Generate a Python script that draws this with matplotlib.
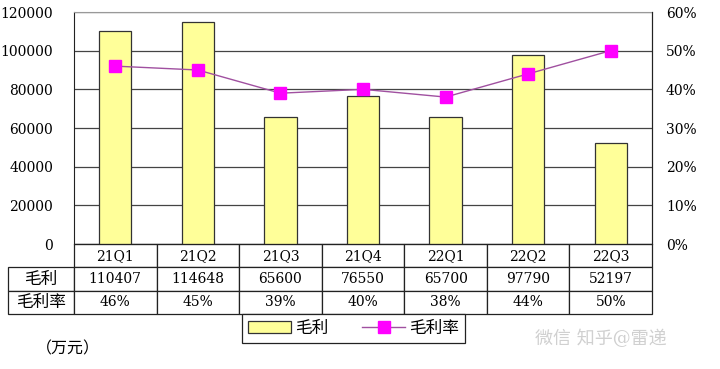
import matplotlib
matplotlib.use("Agg")
import matplotlib.pyplot as plt
from matplotlib.ticker import FuncFormatter

plt.rcParams['font.family'] = ['DejaVu Serif', 'Noto Sans CJK SC']

quarters = ['21Q1', '21Q2', '21Q3', '21Q4', '22Q1', '22Q2', '22Q3']
gross_profit = [110407, 114648, 65600, 76550, 65700, 97790, 52197]
gross_margin = [46, 45, 39, 40, 38, 44, 50]
label_profit = '毛利'
label_margin = '毛利率'

fig = plt.figure(figsize=(7.2, 3.69), dpi=100)
ax = fig.add_axes([74 / 720, 1 - 244 / 369, 578 / 720, 232 / 369])

x = list(range(len(quarters)))
bars = ax.bar(x, gross_profit, width=0.39, color='#FFFF99', edgecolor='#333333',
              linewidth=0.9, zorder=2, label=label_profit)
ax.set_xlim(-0.5, 6.5)
ax.set_ylim(0, 120000)
ax.set_yticks(range(0, 120001, 20000))
ax.set_xticks([])
ax.yaxis.grid(True, color='#444444', linewidth=0.9)
ax.set_axisbelow(True)
ax.tick_params(axis='y', length=0, pad=15, labelsize=10)
for s in ['left', 'right', 'bottom']:
    ax.spines[s].set_color('#222222')
ax.spines['top'].set_color('#999999')

ax2 = ax.twinx()
line, = ax2.plot(x, gross_margin, color='#A050A0', linewidth=1.0, marker='s',
                 markersize=8, markerfacecolor='#FF00FF', markeredgecolor='#FF00FF',
                 label=label_margin, zorder=3)
ax2.set_ylim(0, 60)
ax2.set_yticks(range(0, 61, 10))
ax2.yaxis.set_major_formatter(FuncFormatter(lambda v, p: '%d%%' % v))
ax2.tick_params(axis='y', length=0, pad=10, labelsize=10)
for s in ['left', 'top', 'bottom']:
    ax2.spines[s].set_visible(False)
ax2.spines['right'].set_color('#222222')

# data table under the chart
col_w = 578 / 7
lab_w = 66
widths = [lab_w] + [col_w] * 7
tot = sum(widths)
cells = [[label_profit] + [str(v) for v in gross_profit],
         [label_margin] + ['%d%%' % v for v in gross_margin]]
tab = ax.table(cellText=cells, colLabels=[''] + quarters,
               colWidths=[w / tot for w in widths], cellLoc='center',
               bbox=[-lab_w / 578, -70 / 232, tot / 578, 70 / 232])
tab.auto_set_font_size(False)
tab.set_fontsize(10)
for (r, c), cell in tab.get_celld().items():
    cell.set_edgecolor('#222222')
    cell.set_linewidth(0.9)
    if r == 0 and c == 0:
        cell.visible_edges = ''
    if c == 0 and r > 0:
        cell._loc = 'left'
        cell.PAD = 0.02
        cell.get_text().set_fontsize(12)

leg = fig.legend([bars, line], [label_profit, label_margin], loc='upper center',
                 bbox_to_anchor=(353.5 / 720, 1 - 314 / 369), ncol=2, fontsize=12,
                 fancybox=False, edgecolor='#222222', framealpha=1,
                 handlelength=2.6, handletextpad=0.25, columnspacing=2.0,
                 borderpad=0.35, borderaxespad=0)
leg.get_frame().set_linewidth(0.9)

fig.text(36 / 720, 1 - 349 / 369, '（万元）', fontsize=11.5, va='center', ha='left')
fig.text(535 / 720, 1 - 339 / 369, '微信 知乎@雷递', fontsize=13, color='#d0d0d0',
         va='center', ha='left')

fig.savefig('out.png', dpi=100)
